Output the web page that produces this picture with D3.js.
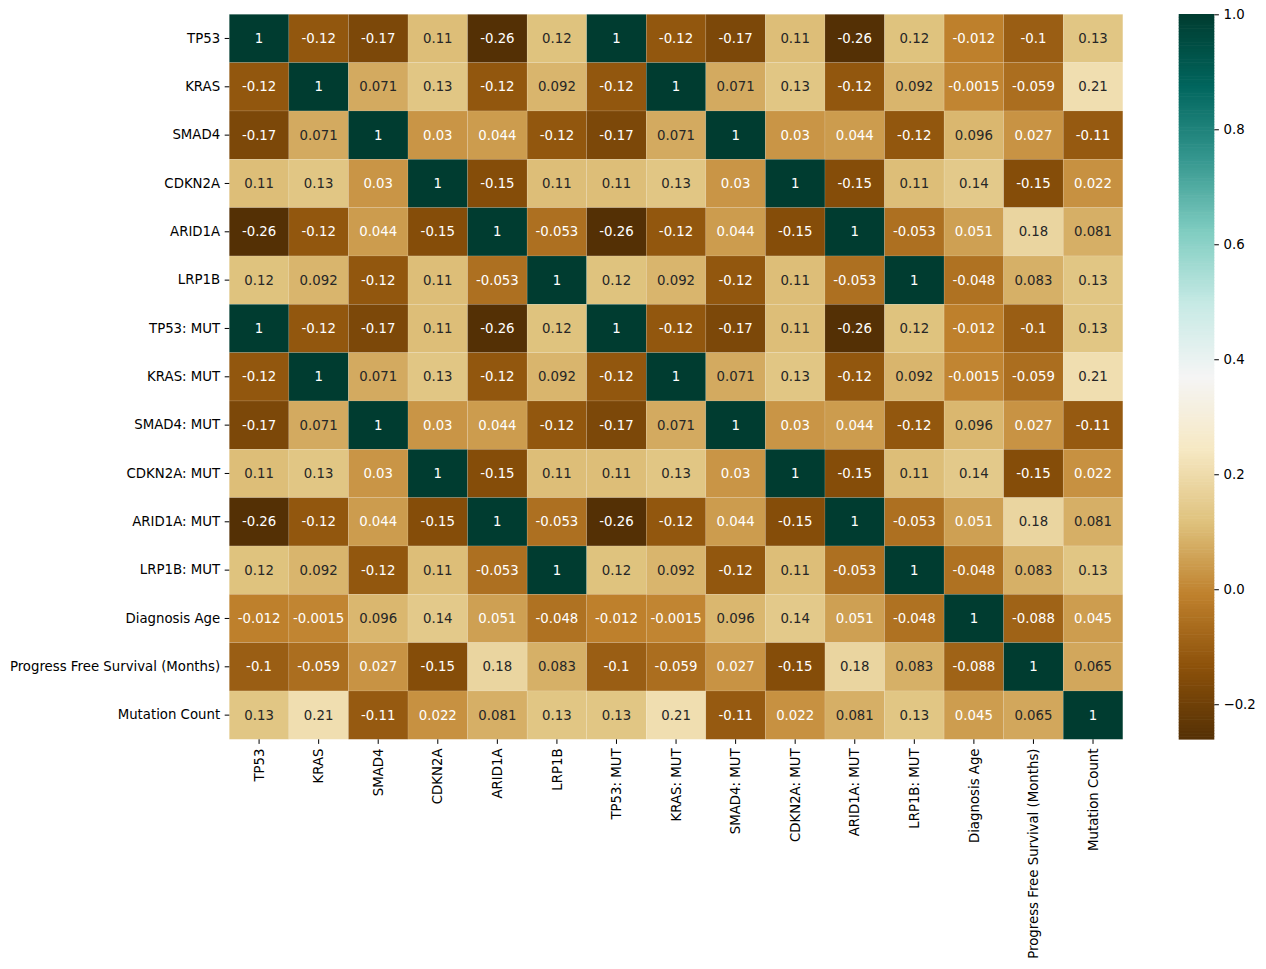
<!DOCTYPE html>
<html><head><meta charset="utf-8">
<script src="https://cdn.jsdelivr.net/npm/d3@7"></script>
<style>body{margin:0;background:#fff}svg{display:block}text{font-family:"DejaVu Sans",sans-serif}</style>
</head><body><svg id="c" width="1266" height="969"></svg>
<script>
const labels = ["TP53","KRAS","SMAD4","CDKN2A","ARID1A","LRP1B","TP53: MUT","KRAS: MUT","SMAD4: MUT","CDKN2A: MUT","ARID1A: MUT","LRP1B: MUT","Diagnosis Age","Progress Free Survival (Months)","Mutation Count"];
const rowTP53   = [1,-0.12,-0.17,0.11,-0.26,0.12,1,-0.12,-0.17,0.11,-0.26,0.12,-0.012,-0.1,0.13];
const rowKRAS   = [-0.12,1,0.071,0.13,-0.12,0.092,-0.12,1,0.071,0.13,-0.12,0.092,-0.0015,-0.059,0.21];
const rowSMAD4  = [-0.17,0.071,1,0.03,0.044,-0.12,-0.17,0.071,1,0.03,0.044,-0.12,0.096,0.027,-0.11];
const rowCDKN2A = [0.11,0.13,0.03,1,-0.15,0.11,0.11,0.13,0.03,1,-0.15,0.11,0.14,-0.15,0.022];
const rowARID1A = [-0.26,-0.12,0.044,-0.15,1,-0.053,-0.26,-0.12,0.044,-0.15,1,-0.053,0.051,0.18,0.081];
const rowLRP1B  = [0.12,0.092,-0.12,0.11,-0.053,1,0.12,0.092,-0.12,0.11,-0.053,1,-0.048,0.083,0.13];
const rowAge    = [-0.012,-0.0015,0.096,0.14,0.051,-0.048,-0.012,-0.0015,0.096,0.14,0.051,-0.048,1,-0.088,0.045];
const rowPFS    = [-0.1,-0.059,0.027,-0.15,0.18,0.083,-0.1,-0.059,0.027,-0.15,0.18,0.083,-0.088,1,0.065];
const rowMutCnt = [0.13,0.21,-0.11,0.022,0.081,0.13,0.13,0.21,-0.11,0.022,0.081,0.13,0.045,0.065,1];
const matrix = [rowTP53,rowKRAS,rowSMAD4,rowCDKN2A,rowARID1A,rowLRP1B,rowTP53,rowKRAS,rowSMAD4,rowCDKN2A,rowARID1A,rowLRP1B,rowAge,rowPFS,rowMutCnt];
const cbarTicks = [-0.2,0.0,0.2,0.4,0.6,0.8,1.0];
const vmin = -0.261, vmax = 1.0;
const brbg = ["#543005","#8c510a","#bf812d","#dfc27d","#f6e8c3","#f5f5f5","#c7eae5","#80cdc1","#35978f","#01665e","#003c30"];

const FS = "13.3px";
const svg = d3.select("#c");
const L = 229.3, R = 1122.8, T = 14.3, B = 739.3;
const x = d3.scaleBand().domain(labels).range([L, R]);
const y = d3.scaleBand().domain(labels).range([T, B]);
const color = d3.scaleLinear()
  .domain(d3.range(11).map(i => vmin + i * (vmax - vmin) / 10))
  .range(brbg).interpolate(d3.interpolateRgb).clamp(true);
const loc = d3.formatLocale({decimal:".",thousands:",",grouping:[3],currency:["",""],minus:"-"});
const fmt = loc.format(".2~g");
function lum(c){
  const r = d3.rgb(c);
  const f = v => { v/=255; return v <= 0.03928 ? v/12.92 : Math.pow((v+0.055)/1.055, 2.4); };
  return 0.2126*f(r.r) + 0.7152*f(r.g) + 0.0722*f(r.b);
}
const cells = [];
matrix.forEach((row, i) => row.forEach((v, j) => cells.push({r: labels[i], c: labels[j], v})));
const g = svg.append("g");
g.selectAll("rect").data(cells).join("rect")
  .attr("x", d => x(d.c)).attr("y", d => y(d.r))
  .attr("width", x.bandwidth()).attr("height", y.bandwidth())
  .attr("fill", d => color(d.v))
  .attr("stroke", "#fff").attr("stroke-opacity", 0.18).attr("stroke-width", 0.6);
g.selectAll("text").data(cells).join("text")
  .attr("x", d => x(d.c) + x.bandwidth()/2).attr("y", d => y(d.r) + y.bandwidth()/2)
  .attr("text-anchor", "middle").attr("dominant-baseline", "central")
  .attr("font-size", FS)
  .attr("fill", d => lum(color(d.v)) > 0.408 ? "#262626" : "#fff")
  .text(d => fmt(d.v));

const ax = svg.append("g").attr("transform", `translate(0,${B})`)
  .call(d3.axisBottom(x).tickSize(4.6).tickPadding(4.6));
ax.select(".domain").remove();
ax.selectAll(".tick line").attr("stroke", "#000").attr("stroke-width", 1);
ax.selectAll(".tick text").attr("font-size", FS).attr("fill", "#000")
  .attr("transform", "rotate(-90)").attr("text-anchor", "end")
  .attr("x", -9.2).attr("y", 0).attr("dy", "0.35em");

const ay = svg.append("g").attr("transform", `translate(${L},0)`)
  .call(d3.axisLeft(y).tickSize(4.6).tickPadding(4.6));
ay.select(".domain").remove();
ay.selectAll(".tick line").attr("stroke", "#000").attr("stroke-width", 1);
ay.selectAll(".tick text").attr("font-size", FS).attr("fill", "#000");

// colorbar
const CL = 1178.7, CR = 1214.3;
const cy = d3.scaleLinear().domain([vmin, vmax]).range([B, T]);
const steps = d3.range(256).map(i => vmin + (i + 0.5) * (vmax - vmin) / 256);
const sh = (B - T) / 256;
svg.append("g").selectAll("rect").data(steps).join("rect")
  .attr("x", CL).attr("width", CR - CL)
  .attr("y", d => cy(d) - sh/2 - 0.3).attr("height", sh + 0.6)
  .attr("fill", d => color(d));
const ac = svg.append("g").attr("transform", `translate(${CR},0)`)
  .call(d3.axisRight(cy).tickValues(cbarTicks).tickFormat(d3.format(".1f")).tickSize(4.6).tickPadding(4.6));
ac.select(".domain").remove();
ac.selectAll(".tick line").attr("stroke", "#000").attr("stroke-width", 1);
ac.selectAll(".tick text").attr("font-size", FS).attr("fill", "#000");
</script></body></html>
